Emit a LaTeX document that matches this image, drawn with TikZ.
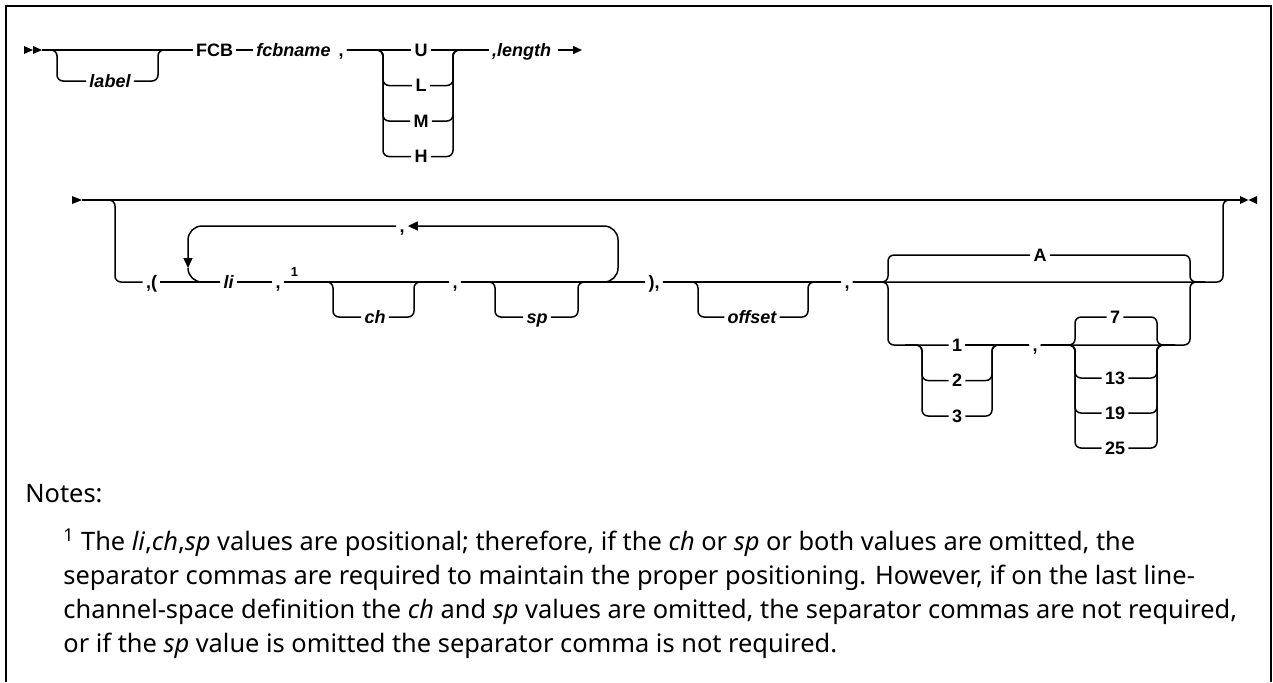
\documentclass[tikz,border=0pt]{standalone}
\usepackage{fontspec}
\setmainfont{Noto Sans}
\newfontfamily\railfont{Liberation Sans}
\usetikzlibrary{arrows.meta}

\begin{document}
\begin{tikzpicture}[
    x=0.5pt, y=-0.5pt,
    rail/.style={line width=0.75pt, rounded corners=3pt},
    loopline/.style={line width=0.75pt, rounded corners=7pt},
    kw/.style={font=\railfont\bfseries\fontsize{9}{10}\selectfont, inner sep=1.5pt, text height=6.4pt, text depth=0pt},
    var/.style={kw, font=\railfont\bfseries\itshape\fontsize{9}{10}\selectfont},
    fnmark/.style={font=\railfont\bfseries\fontsize{6.5}{7}\selectfont, inner sep=0pt},
    note/.style={font=\fontsize{12.7}{15}\selectfont, inner sep=0pt, anchor=base west},
    tip/.style={-{Triangle[length=4.5pt,width=4pt]}},
    looptip/.style={-{Triangle[length=5pt,width=4.5pt]}}
]
    \useasboundingbox (0,0) rectangle (1273,682);
    % frame
    \draw[line width=1pt] (6,682) -- (6,6) -- (1271,6) -- (1271,682);

    % first line
    \coordinate (st1) at (42,50);
    \coordinate (b1) at (57,50);
    \coordinate (b2) at (158,50);
    \coordinate (ch1) at (383,50);
    \coordinate (ch2) at (453,50);
    \coordinate (e1) at (582,50);
    \fill (24,46) -- (33,50) -- (24,54) -- cycle;
    \fill (33,46) -- (42,50) -- (33,54) -- cycle;

    \node[var] (label) at (110,81) {label};
    \node[kw] (fcb) at (214.5,50) {FCB};
    \node[var] (fcbname) at (293.5,50) {fcbname};
    \node[kw] (c1) at (341,50) {,};
    \node[kw] (u) at (421,50) {U};
    \node[kw] (l) at (421,85.5) {L};
    \node[kw] (m) at (421,121) {M};
    \node[kw] (h) at (421,156.5) {H};
    \node[var] (length) at (521.5,50) {,length};

    \draw[rail] (st1) -- (fcb);
    \draw[rail] (st1) -| (b1 |- label) -- (label);
    \draw[rail] (label) -| (b2) -- (fcb);
    \draw[rail] (fcb) -- (fcbname);
    \draw[rail] (c1) -- (u);
    \draw[rail] (u) -- (length);
    \foreach \opt in {l,m,h} {
        \draw[rail] (c1) -| (ch1 |- \opt) -- (\opt);
        \draw[rail] (\opt) -| (ch2) -- (length);
    }
    \draw[rail, tip, shorten <=2pt] (length) -- (e1);

    % second line
    \coordinate (st2) at (82,200);
    \coordinate (en2) at (1240,200);
    \coordinate (o1) at (115,200);
    \coordinate (orr) at (1223,200);
    \fill (72,196) -- (82,200) -- (72,204) -- cycle;
    \fill (1240,196) -- (1257,204) -- (1257,196) -- (1240,204) -- cycle;
    \draw[rail] (st2) -- (en2);

    \node[kw] (lp) at (151.5,282) {,(};
    \node[var] (li) at (228.5,282) {li};
    \node[kw] (c2) at (278,282) {,};
    \node[fnmark] (fn) at (294.5,272) {1};
    \node[var] (ch) at (375,317) {ch};
    \node[kw] (c3) at (455,282) {,};
    \node[var] (sp) at (537,317) {sp};
    \node[kw] (rp) at (654,282) {),};
    \node[var] (off) at (752,317) {offset};
    \node[kw] (c4) at (847,282) {,};
    \node[kw] (rep) at (402,226) {,};

    \coordinate (chl) at (333,282);
    \coordinate (chr) at (414,282);
    \coordinate (spl) at (495,282);
    \coordinate (spr) at (578,282);
    \coordinate (lpr) at (618,282);
    \coordinate (lpl) at (188,282);
    \coordinate (lpa) at (188,268);
    \coordinate (ofl) at (698,282);
    \coordinate (ofr) at (808,282);

    \draw[rail] (st2) -| (o1 |- lp) -- (lp);
    \draw[rail] (lp) -- (li);
    \draw[rail] (li) -- (c2);
    \draw[rail] (c2) -- (c3);
    \draw[rail] (c2) -| (chl |- ch) -- (ch);
    \draw[rail] (ch) -| (chr) -- (c3);
    \draw[rail] (c3) -- (rp);
    \draw[rail] (c3) -| (spl |- sp) -- (sp);
    \draw[rail] (sp) -| (spr) -- (rp);
    \draw[rail] (rp) -- (c4);
    \draw[rail] (rp) -| (ofl |- off) -- (off);
    \draw[rail] (off) -| (ofr) -- (c4);

    % repeat loop
    \draw[loopline, looptip] (spr) -| (lpr |- rep) -- (rep);
    \draw[loopline, looptip] (rep) -| (lpa);
    \draw[loopline] (lpa) |- (li);

    % mode and density
    \coordinate (al) at (888,282);
    \coordinate (ar) at (1190,282);
    \coordinate (aj) at (1205,282);
    \coordinate (bl) at (922,345);
    \coordinate (bj) at (905,345);
    \coordinate (br) at (992,345);
    \coordinate (sl) at (1075,345);
    \coordinate (sr) at (1157,345);
    \coordinate (sj) at (1175,345);

    \node[kw] (a) at (1040,255) {A};
    \node[kw] (n1) at (957,345) {1};
    \node[kw] (n2) at (957,380.5) {2};
    \node[kw] (n3) at (957,416) {3};
    \node[kw] (c5) at (1035,345) {,};
    \node[kw] (n7) at (1115,317) {7};
    \node[kw] (n13) at (1115,378) {13};
    \node[kw] (n19) at (1115,413) {19};
    \node[kw] (n25) at (1115,448) {25};

    \draw[rail] (c4) -| (orr) -- (en2);
    \draw[rail] (c4) -| (al |- a) -- (a);
    \draw[rail] (a) -| (ar) -- (aj);
    \draw[rail] (c4) -| (al |- n1) -- (n1);
    \draw[rail] (n1) -- (c5);
    \foreach \opt in {n2,n3} {
        \draw[rail] (bj) -| (bl |- \opt) -- (\opt);
        \draw[rail] (\opt) -| (br) -- (c5);
    }
    \draw[rail] (c5) -| (ar) -- (aj);
    \foreach \opt in {n7,n13,n19,n25} {
        \draw[rail] (c5) -| (sl |- \opt) -- (\opt);
        \draw[rail] (\opt) -| (sr) -- (sj);
    }

    % notes
    \node[note] (notes) at (25,502) {Notes:};
    \node[note] (fn1) at (63,550) {\textsuperscript{1} The \textit{li},\textit{ch},\textit{sp} values are positional; therefore, if the \textit{ch} or \textit{sp} or both values are omitted, the};
    \node[note] (fn2) at (63,584) {separator commas are required to maintain the proper positioning. However, if on the last line-};
    \node[note] (fn3) at (63,618) {channel-space definition the \textit{ch} and \textit{sp} values are omitted, the separator commas are not required,};
    \node[note] (fn4) at (63,652) {or if the \textit{sp} value is omitted the separator comma is not required.};
\end{tikzpicture}
\end{document}
